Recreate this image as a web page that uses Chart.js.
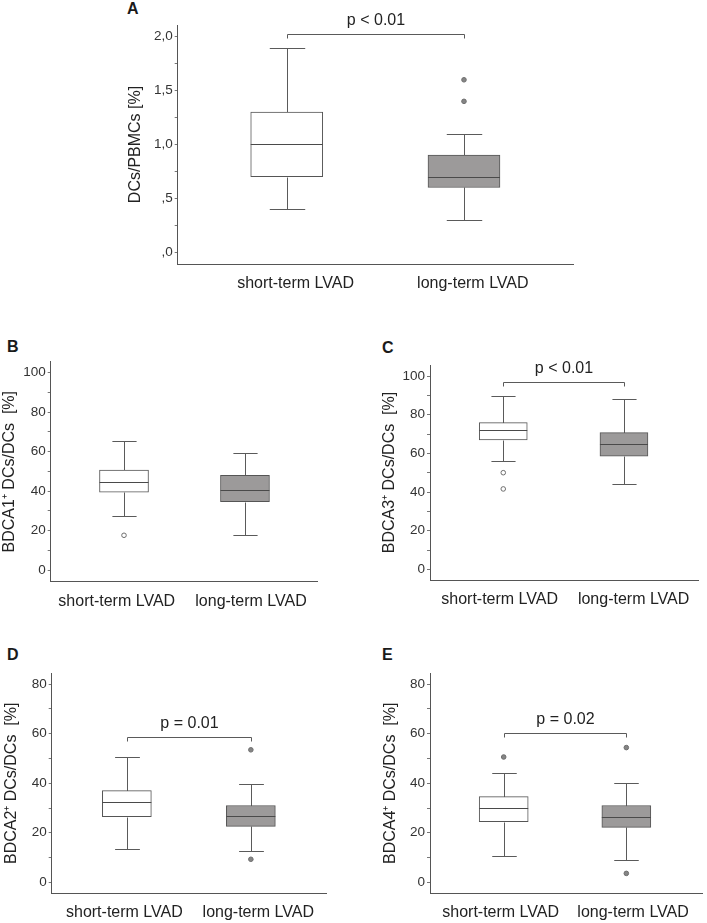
<!DOCTYPE html>
<html><head><meta charset="utf-8">
<script src="https://cdn.jsdelivr.net/npm/chart.js@4.4.1/dist/chart.umd.min.js"></script>
<style>
html,body{margin:0;padding:0;background:#fff;}
body{width:707px;height:923px;position:relative;overflow:hidden;font-family:"Liberation Sans",Arial,sans-serif;}
.pl{position:absolute;font-weight:bold;font-size:16px;line-height:16px;color:#1a1a1a;}
canvas{position:absolute;}
</style></head><body>
<div class="pl" style="left:127px;top:1px">A</div>
<div class="pl" style="left:7px;top:339px">B</div>
<div class="pl" style="left:382px;top:340px">C</div>
<div class="pl" style="left:7px;top:647px">D</div>
<div class="pl" style="left:382px;top:647px">E</div>
<canvas id="cA" width="480" height="300" style="left:110px;top:0px"></canvas>
<canvas id="cB" width="340" height="290" style="left:0px;top:330px"></canvas>
<canvas id="cC" width="337" height="290" style="left:370px;top:330px"></canvas>
<canvas id="cD" width="340" height="283" style="left:0px;top:640px"></canvas>
<canvas id="cE" width="337" height="283" style="left:370px;top:640px"></canvas>
<script>
// ---------- DATA ----------
const categories = ['short-term LVAD', 'long-term LVAD'];
const boxPositions = [1, 2];
// five-number summaries: [lower whisker, Q1, median, Q3, upper whisker]
const aShort = [0.4, 0.7, 1.0, 1.3, 1.9];
const aLong  = [0.3, 0.6, 0.7, 0.9, 1.1];
const aShortOut = [];
const aLongOut  = [1.4, 1.6];
const bShort = [27.5, 39.4, 44.8, 50.7, 65.2];
const bLong  = [17.9, 34.6, 40.4, 48.0, 59.1];
const bShortOut = [17.6];
const bLongOut  = [];
const cShort = [55.9, 66.9, 72.1, 75.9, 89.8];
const cLong  = [44.1, 58.6, 64.7, 70.7, 87.9];
const cShortOut = [50.0, 41.6];
const cLongOut  = [];
const dShort = [13.3, 26.5, 32.6, 37.0, 50.4];
const dLong  = [12.8, 22.6, 26.8, 31.0, 39.5];
const dShortOut = [];
const dLongOut  = [53.5, 9.3];
const eShort = [10.6, 24.5, 29.9, 34.6, 44.3];
const eLong  = [8.9, 22.2, 26.3, 31.0, 40.3];
const eShortOut = [50.6];
const eLongOut  = [54.4, 3.6];
const pTexts = ['p < 0.01', null, 'p < 0.01', 'p = 0.01', 'p = 0.02'];
const bracketLevels = [2.024, null, 97.0, 58.6, 60.2];
const yTitles = ['DCs/PBMCs [%]', 'BDCA1\u207A DCs/DCs  [%]', 'BDCA3\u207A DCs/DCs  [%]', 'BDCA2\u207A DCs/DCs  [%]', 'BDCA4\u207A DCs/DCs  [%]'];
const yTickValuesA = [0, 0.5, 1.0, 1.5, 2.0];
const yTickLabelsA = [',0', ',5', '1,0', '1,5', '2,0'];
const yTickValues100 = [0, 20, 40, 60, 80, 100];
const yTickLabels100 = ['0', '20', '40', '60', '80', '100'];
const yTickValues80 = [0, 20, 40, 60, 80];
const yTickLabels80 = ['0', '20', '40', '60', '80'];

// ---------- STYLE ----------
const FONT = '"Liberation Sans", Arial, sans-serif';
const LINE = '#5a5a5a';
const TEXT = '#222222';
const FILLS = ['#ffffff', '#9c9a9a'];
Chart.defaults.font.family = FONT;
Chart.defaults.animation = false;

const boxPlugin = {
  id: 'boxplot',
  beforeDatasetsDraw(chart, args, o) {
    const ctx = chart.ctx, xs = chart.scales.x, ys = chart.scales.y;
    ctx.save();
    ctx.strokeStyle = LINE; ctx.lineWidth = 1;
    o.stats.forEach((s, i) => {
      const p = boxPositions[i];
      const cx = Math.round(xs.getPixelForValue(p)) + 0.5;
      const hw = xs.getPixelForValue(p + 0.1) - xs.getPixelForValue(p);
      const py = v => Math.round(ys.getPixelForValue(v)) + 0.5;
      ctx.beginPath();
      ctx.moveTo(cx, py(s[0])); ctx.lineTo(cx, py(s[1]));
      ctx.moveTo(cx, py(s[3])); ctx.lineTo(cx, py(s[4]));
      ctx.moveTo(cx - hw, py(s[0])); ctx.lineTo(cx + hw, py(s[0]));
      ctx.moveTo(cx - hw, py(s[4])); ctx.lineTo(cx + hw, py(s[4]));
      ctx.stroke();
    });
    ctx.restore();
  },
  afterDatasetsDraw(chart, args, o) {
    const ctx = chart.ctx, xs = chart.scales.x, ys = chart.scales.y;
    ctx.save();
    ctx.strokeStyle = '#4a4a4a'; ctx.lineWidth = 1;
    o.stats.forEach((s, i) => {
      const p = boxPositions[i];
      const x0 = xs.getPixelForValue(p) - o.boxPx / 2;
      const y = Math.round(ys.getPixelForValue(s[2])) + 0.5;
      ctx.beginPath(); ctx.moveTo(x0, y); ctx.lineTo(x0 + o.boxPx, y); ctx.stroke();
    });
    if (o.pText) {
      const x1 = Math.round(xs.getPixelForValue(boxPositions[0])) + 0.5;
      const x2 = Math.round(xs.getPixelForValue(boxPositions[1])) + 0.5;
      const yb = Math.round(ys.getPixelForValue(o.bracket)) + 0.5;
      ctx.strokeStyle = LINE;
      ctx.beginPath();
      ctx.moveTo(x1, yb + 4); ctx.lineTo(x1, yb); ctx.lineTo(x2, yb); ctx.lineTo(x2, yb + 4);
      ctx.stroke();
      ctx.fillStyle = TEXT; ctx.font = '16px ' + FONT;
      ctx.textAlign = 'center'; ctx.textBaseline = 'middle';
      ctx.fillText(o.pText, (x1 + x2) / 2, yb - 14);
    }
    ctx.restore();
  }
};

function makePanel(id, idx, st, lt, so, lo, yMin, yMax, minorStep, majorVals, majorLabels, L) {
  const ticksAll = [];
  for (let v = majorVals[0]; v <= majorVals[majorVals.length - 1] + 1e-9; v += minorStep) ticksAll.push(+v.toFixed(6));
  const outData = [];
  new Chart(document.getElementById(id), {
    type: 'bar',
    data: {
      datasets: [
        { type: 'bar', data: [{x: boxPositions[0], y: [st[1], st[3]]}, {x: boxPositions[1], y: [lt[1], lt[3]]}],
          backgroundColor: FILLS, borderColor: '#555555', borderWidth: 1, borderSkipped: false,
          barThickness: L.boxPx, order: 2 },
        { type: 'scatter', data: so.map(v => ({x: boxPositions[0], y: v})),
          pointRadius: 2.3, pointBackgroundColor: L.openShort ? '#ffffff' : '#858585', pointBorderColor: '#6e6e6e', pointBorderWidth: 1, order: 1 },
        { type: 'scatter', data: lo.map(v => ({x: boxPositions[1], y: v})),
          pointRadius: 2.3, pointBackgroundColor: '#858585', pointBorderColor: '#6e6e6e', pointBorderWidth: 1, order: 1 }
      ]
    },
    options: {
      responsive: false, animation: false,
      layout: { padding: { left: 0, top: L.padTop, right: L.padRight, bottom: 0 } },
      plugins: {
        legend: { display: false }, tooltip: { enabled: false },
        boxplot: { stats: [st, lt], boxPx: L.boxPx, pText: pTexts[idx], bracket: bracketLevels[idx] }
      },
      scales: {
        x: {
          type: 'linear', min: L.xMin, max: L.xMax, offset: false,
          grid: { display: false, drawTicks: false, offset: false },
          border: { display: true, color: '#555555', width: 1 },
          afterBuildTicks: s => { s.ticks = L.labelPos.map(v => ({ value: v })); },
          afterFit: s => { s.height = L.xH; },
          ticks: { autoSkip: false, maxRotation: 0, minRotation: 0, padding: 10,
                   color: TEXT, font: { size: 16, family: FONT },
                   callback: (v, i) => categories[i] }
        },
        y: {
          type: 'linear', min: yMin, max: yMax, beginAtZero: false,
          grid: { display: true, drawOnChartArea: false, drawTicks: true, tickLength: 3, color: '#777777' },
          border: { display: true, color: '#555555', width: 1 },
          afterBuildTicks: s => { s.ticks = ticksAll.map(v => ({ value: v })); },
          afterFit: s => { s.width = L.yW; },
          title: { display: true, text: yTitles[idx], color: TEXT,
                   font: { size: 16, family: FONT, lineHeight: 1 }, padding: { top: L.titlePad, bottom: 0 } },
          ticks: { autoSkip: false, padding: 2, color: '#333333', font: { size: 13.5, family: FONT },
                   callback: v => { const k = majorVals.findIndex(m => Math.abs(m - v) < 1e-6); return k >= 0 ? majorLabels[k] : ''; } }
        }
      }
    },
    plugins: [boxPlugin]
  });
}

makePanel('cA', 0, aShort, aLong, aShortOut, aLongOut, -0.111, 2.109, 0.25, yTickValuesA, yTickLabelsA,
  { padTop: 25, padRight: 17, yW: 67.7, xH: 36, titlePad: 17.5, boxPx: 72, xMin: 0.385, xMax: 2.615, labelPos: [1.05, 2.05] });
makePanel('cB', 1, bShort, bLong, bShortOut, bLongOut, -5.93, 105.6, 10, yTickValues100, yTickLabels100,
  { padTop: 31.7, padRight: 22.7, yW: 50.7, xH: 38.3, titlePad: 1.5, boxPx: 49, xMin: 0.394, xMax: 2.598, labelPos: [0.94, 2.05], openShort: true });
makePanel('cC', 2, cShort, cLong, cShortOut, cLongOut, -5.5, 105.7, 10, yTickValues100, yTickLabels100,
  { padTop: 35, padRight: 8.7, yW: 60, xH: 40, titlePad: 12, boxPx: 48, xMin: 0.393, xMax: 2.616, labelPos: [0.97, 2.08], openShort: true });
makePanel('cD', 3, dShort, dLong, dShortOut, dLongOut, -4.44, 84.4, 10, yTickValues80, yTickLabels80,
  { padTop: 33.3, padRight: 14, yW: 51.7, xH: 29.7, titlePad: 4, boxPx: 49, xMin: 0.394, xMax: 2.606, labelPos: [0.98, 2.06] });
makePanel('cE', 4, eShort, eLong, eShortOut, eLongOut, -4.44, 84.4, 10, yTickValues80, yTickLabels80,
  { padTop: 33.3, padRight: 1, yW: 60, xH: 29.7, titlePad: 13, boxPx: 49, xMin: 0.399, xMax: 2.617, labelPos: [0.975, 2.055] });
</script>
</body></html>
